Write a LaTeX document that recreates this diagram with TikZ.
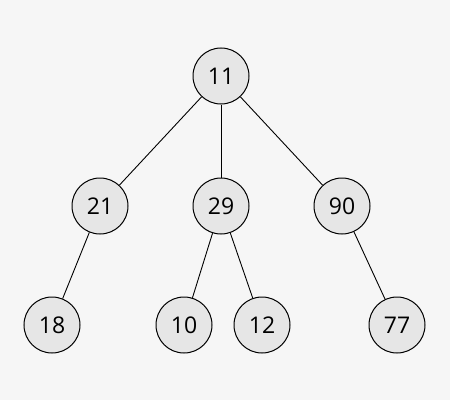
\documentclass[tikz,border=0pt]{standalone}
\usepackage{fontspec}
\setmainfont{Open Sans}
\usetikzlibrary{positioning}
\definecolor{bgcol}{HTML}{F6F6F6}
\definecolor{nodecol}{HTML}{E6E6E6}
\tikzset{
  vtx/.style={draw,circle,fill=nodecol,line width=1pt,minimum size=56pt,inner sep=0pt,font=\fontsize{23}{25}\selectfont},
  edg/.style={line width=0.9pt},
}
\begin{document}
\begin{tikzpicture}[x=1pt,y=1pt]
 % ---- canvas
 \fill[bgcol] (0,0) rectangle (450,400);
 \useasboundingbox (0,0) rectangle (450,400);
 % ---- vertices
 \node[vtx] (n11) at (221,324){11};
 \node[vtx] (n21) at (100,194){21};
 \node[vtx] (n29) at (221,194){29};
 \node[vtx] (n90) at (342,194){90};
 \node[vtx] (n18) at (52,75){18};
 \node[vtx] (n10) at (184,75){10};
 \node[vtx] (n12) at (262,75){12};
 \node[vtx] (n77) at (397,75){77};
 % ---- edges
 \foreach \a/\b in {n11/n21,n11/n29,n11/n90,n21/n18,n29/n10,n29/n12,n90/n77}{\draw[edg] (\a)--(\b);}
\end{tikzpicture}
\end{document}
